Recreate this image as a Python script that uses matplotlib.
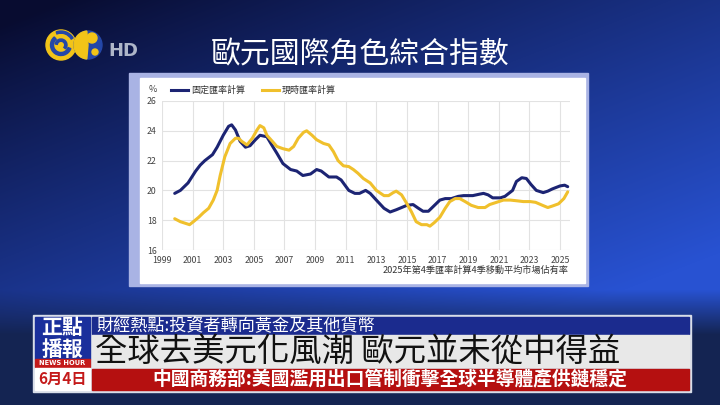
import numpy as np
import matplotlib.pyplot as plt
from matplotlib.patches import Rectangle, Circle, Wedge

plt.rcParams['font.family'] = ['Noto Sans CJK TC', 'DejaVu Sans']

title = '歐元國際角色綜合指數'
legend_labels = ['固定匯率計算', '現時匯率計算']
footnote = '2025年第4季匯率計算4季移動平均市場佔有率'
ticker_top = '財經熱點:投資者轉向黃金及其他貨幣'
headline = '全球去美元化風潮 歐元並未從中得益'
ticker_bottom = '中國商務部:美國濫用出口管制衝擊全球半導體產供鏈穩定'

# fixed exchange rate series (blue)
fixed_years = [1999.83, 2000.2, 2000.7, 2001.2, 2001.5, 2001.8, 2002.3, 2002.6, 2003.0, 2003.35,
               2003.55, 2003.8, 2004.1, 2004.45, 2004.75, 2005.1, 2005.4, 2005.85, 2006.2, 2006.5,
               2006.9, 2007.4, 2007.8, 2008.2, 2008.7, 2009.1, 2009.4, 2009.9, 2010.4, 2010.7,
               2011.2, 2011.6, 2011.9, 2012.3, 2012.6, 2013.0, 2013.5, 2013.9, 2014.3, 2014.65,
               2015.0, 2015.4, 2015.75, 2016.05, 2016.4, 2016.7, 2017.15, 2017.5, 2017.9, 2018.35,
               2018.7, 2019.3, 2019.75, 2020.0, 2020.3, 2020.6, 2021.1, 2021.4, 2021.9, 2022.15,
               2022.5, 2022.8, 2023.1, 2023.45, 2023.9, 2024.2, 2024.5, 2025.0, 2025.3, 2025.5]
fixed_vals = [19.8, 20.0, 20.5, 21.3, 21.7, 22.0, 22.4, 22.9, 23.7, 24.3,
              24.4, 24.05, 23.3, 22.9, 23.0, 23.4, 23.7, 23.6, 23.0, 22.5,
              21.8, 21.4, 21.3, 21.0, 21.1, 21.4, 21.3, 20.9, 20.9, 20.7,
              20.0, 19.8, 19.8, 20.0, 19.8, 19.35, 18.8, 18.55, 18.7, 18.85,
              19.0, 19.05, 18.8, 18.6, 18.6, 18.9, 19.35, 19.45, 19.45, 19.6,
              19.65, 19.65, 19.75, 19.8, 19.7, 19.5, 19.5, 19.6, 20.0, 20.6,
              20.85, 20.8, 20.4, 20.0, 19.85, 19.95, 20.1, 20.3, 20.35, 20.25]

# current exchange rate series (yellow)
spot_years = [1999.83, 2000.2, 2000.5, 2000.8, 2001.05, 2001.4, 2001.7, 2002.05, 2002.35, 2002.6,
              2002.8, 2003.1, 2003.45, 2003.8, 2004.0, 2004.2, 2004.55, 2004.9, 2005.2, 2005.4,
              2005.65, 2005.85, 2006.2, 2006.5, 2006.9, 2007.3, 2007.6, 2007.9, 2008.25, 2008.45,
              2008.8, 2009.1, 2009.55, 2009.9, 2010.2, 2010.5, 2010.85, 2011.2, 2011.5, 2011.8,
              2012.15, 2012.6, 2013.0, 2013.5, 2013.8, 2014.1, 2014.3, 2014.65, 2015.0, 2015.3,
              2015.6, 2015.95, 2016.3, 2016.5, 2016.8, 2017.15, 2017.5, 2017.8, 2018.15, 2018.45,
              2018.8, 2019.2, 2019.65, 2020.1, 2020.4, 2020.85, 2021.3, 2021.75, 2022.2, 2022.6,
              2023.05, 2023.4, 2023.85, 2024.2, 2024.5, 2024.9, 2025.25, 2025.5]
spot_vals = [18.1, 17.9, 17.8, 17.7, 17.9, 18.2, 18.5, 18.8, 19.35, 20.0,
             21.0, 22.25, 23.15, 23.5, 23.5, 23.3, 23.05, 23.5, 24.05, 24.35,
             24.2, 23.7, 23.3, 22.95, 22.8, 22.7, 22.95, 23.5, 23.9, 24.0,
             23.7, 23.4, 23.15, 23.05, 22.6, 22.0, 21.65, 21.6, 21.4, 21.15,
             20.8, 20.5, 20.0, 19.65, 19.65, 19.85, 19.95, 19.7, 19.1, 18.55,
             17.9, 17.7, 17.7, 17.6, 17.85, 18.2, 18.8, 19.25, 19.45, 19.45,
             19.25, 19.0, 18.85, 18.85, 19.05, 19.2, 19.35, 19.35, 19.3, 19.25,
             19.25, 19.2, 19.0, 18.85, 18.95, 19.1, 19.45, 19.9]

x_ticks = list(range(1999, 2026, 2))
y_ticks = [16, 18, 20, 22, 24, 26]

blue = '#1c2473'
yellow = '#f0c02c'

fig = plt.figure(figsize=(7.2, 4.05), dpi=100)

# background layer in pixel coordinates
bg = fig.add_axes([0, 0, 1, 1])
W, H = 720, 405
xx, yy = np.meshgrid(np.linspace(0, 1, W), np.linspace(0, 1, H))
dark = np.array([8, 12, 48]) / 255
bright = np.array([40, 82, 210]) / 255
t = np.clip(0.55 * xx + 0.8 * yy - 0.05, 0, 1) ** 0.9
img = dark + (bright - dark) * t[..., None]
low = np.array([20, 36, 82]) / 255
m = np.clip((yy * H - 290) / 45, 0, 1)[..., None]
img = img * (1 - m) + low * m
bg.imshow(img, extent=[0, W, H, 0], aspect='auto')
bg.set_xlim(0, W)
bg.set_ylim(H, 0)
bg.axis('off')

# logo
logo_yellow = '#f2c418'
logo_blue = '#2447a8'
bg.add_patch(Circle((61, 45), 15, color=logo_yellow))
bg.add_patch(Wedge((61, 45), 10.5, 20, 230, width=3, color=logo_blue))
bg.add_patch(Wedge((61, 45), 6, 190, 40, width=2.3, color=logo_blue))
bg.add_patch(Wedge((61, 45), 14, 250, 330, width=2.2, color=logo_blue))
bg.add_patch(Circle((88, 45), 14, color=logo_blue))
bg.add_patch(Wedge((88, 45), 14, 95, 265, color=logo_yellow))
bg.add_patch(Circle((92, 38), 5, color=logo_yellow))
bg.add_patch(Circle((95, 52), 3, color=logo_yellow))
bg.text(123, 51, 'HD', color='#aeb6c8', fontsize=13, fontweight='bold',
        ha='center', va='center', family='DejaVu Sans')

# title
bg.text(360, 55, title, color='white', fontsize=21.5, ha='center', va='center')

# chart panel
bg.add_patch(Rectangle((129, 73), 459, 213, color='#a9b3e4'))
bg.add_patch(Rectangle((140, 78), 445, 205, color='white'))

# legend and labels drawn in pixels
bg.text(153, 90, '%', fontsize=6.5, color='#444444', ha='center', va='center')
bg.plot([171, 188], [90, 90], color=blue, lw=2.2)
bg.text(191, 90, legend_labels[0], fontsize=6.5, color='#333333', va='center')
bg.plot([262, 279], [90, 90], color=yellow, lw=2.2)
bg.text(282, 90, legend_labels[1], fontsize=6.5, color='#333333', va='center')
bg.text(568, 270, footnote, fontsize=6.6, color='#333333', ha='right', va='center')

# chart
ax = fig.add_axes([162 / W, 1 - 250 / H, 408 / W, 149 / H])
ax.patch.set_alpha(0)
ax.plot(fixed_years, fixed_vals, color=blue, lw=2.2, solid_joinstyle='round', solid_capstyle='round')
ax.plot(spot_years, spot_vals, color=yellow, lw=2.2, solid_joinstyle='round', solid_capstyle='round')
ax.set_xlim(1999, 2025.65)
ax.set_ylim(16, 26)
ax.set_xticks(x_ticks)
ax.set_yticks(y_ticks)
ax.grid(True, color='#e2e2e2', lw=0.8)
ax.set_axisbelow(True)
for s in ax.spines.values():
    s.set_visible(False)
ax.tick_params(length=0, labelsize=6.3, colors='#444444', pad=4)

# bottom news bars
bg.add_patch(Rectangle((33, 315), 658, 77, color='#d8dde8'))
bg.add_patch(Rectangle((35, 317), 55, 42, color='#1a2f9c'))
bg.text(62.5, 328, '正點', color='white', fontsize=15, fontweight='bold', ha='center', va='center')
bg.text(62.5, 349, '播報', color='white', fontsize=15, fontweight='bold', ha='center', va='center')
bg.add_patch(Rectangle((35, 359), 55, 8, color='#c41a1a'))
bg.text(62.5, 363.2, 'NEWS HOUR', color='white', fontsize=4.8, fontweight='bold',
        ha='center', va='center', family='DejaVu Sans')
bg.add_patch(Rectangle((35, 368), 55, 22, color='white'))
bg.text(62.5, 379, '6月4日', color='#c41a1a', fontsize=11, fontweight='bold', ha='center', va='center')

bg.add_patch(Rectangle((92, 317), 597, 17, color='#1b2b8e'))
bg.text(96, 325.5, ticker_top, color='white', fontsize=12.3, va='center')
bg.add_patch(Rectangle((92, 335), 597, 32, color='#e8e8e8'))
bg.text(95, 352, headline, color='#111111', fontsize=23.3, va='center')
bg.add_patch(Rectangle((92, 369), 597, 21, color='#b51010'))
bg.text(390, 379.5, ticker_bottom, color='white', fontsize=13.5, fontweight='bold',
        ha='center', va='center')

fig.savefig('out.png', dpi=100)
